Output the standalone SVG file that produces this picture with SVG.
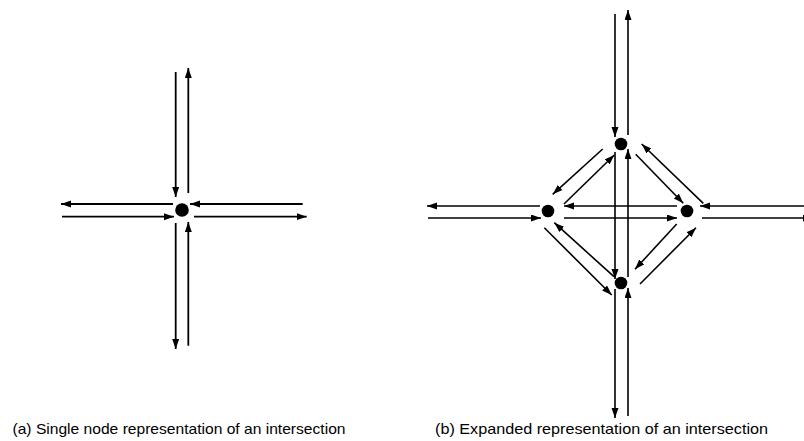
<svg xmlns="http://www.w3.org/2000/svg" width="804" height="441" viewBox="0 0 804 441">
<style>
.c{stroke:#000;fill:none;marker-end:url(#ah)}
.a{stroke-width:1.8}
.b{stroke-width:1.6}
.n{fill:#000}
.t{font-family:"Liberation Sans",Arial,sans-serif;font-size:14.5px;fill:#000}
</style>
<defs>
<marker id="ah" markerUnits="userSpaceOnUse" markerWidth="11" markerHeight="8" refX="10" refY="3.5" orient="auto">
<path d="M0,0 L10,3.5 L0,7 z" fill="#000"/>
</marker>
</defs>
<rect width="804" height="441" fill="#fff"/>
<g id="connectors">
<g id="single">
<line class="c a" x1="175.7" y1="72" x2="175.7" y2="197"/>
<line class="c a" x1="188.3" y1="193" x2="188.3" y2="68"/>
<line class="c a" x1="173" y1="204" x2="61" y2="204"/>
<line class="c a" x1="62" y1="216.7" x2="174" y2="216.7"/>
<line class="c a" x1="302.7" y1="204" x2="190" y2="204"/>
<line class="c a" x1="194" y1="216.7" x2="306.7" y2="216.7"/>
<line class="c a" x1="175.7" y1="223" x2="175.7" y2="349"/>
<line class="c a" x1="188.3" y1="345.7" x2="188.3" y2="222"/>
</g>
<g id="expanded">
<line class="c b" x1="615" y1="14" x2="615" y2="137"/>
<line class="c b" x1="628" y1="135" x2="628" y2="10"/>
<line class="c b" x1="615" y1="152" x2="615" y2="279"/>
<line class="c b" x1="628" y1="277" x2="628" y2="149"/>
<line class="c b" x1="615" y1="289" x2="615" y2="418"/>
<line class="c b" x1="628" y1="416" x2="628" y2="288"/>
<line class="c b" x1="540" y1="206" x2="427" y2="206"/>
<line class="c b" x1="428" y1="218" x2="541" y2="218"/>
<line class="c b" x1="677" y1="206" x2="564" y2="206"/>
<line class="c b" x1="564" y1="218" x2="677" y2="218"/>
<line class="c b" x1="804" y1="206" x2="700" y2="206"/>
<line class="c b" x1="702" y1="218" x2="813" y2="218"/>
<line class="c b" x1="602.7" y1="149" x2="552.7" y2="194.3"/>
<line class="c b" x1="564" y1="204" x2="614.3" y2="155"/>
<line class="c b" x1="635.7" y1="154.3" x2="683.3" y2="203.3"/>
<line class="c b" x1="703.3" y1="203.3" x2="641.7" y2="144"/>
<line class="c b" x1="676.7" y1="224" x2="635" y2="269.3"/>
<line class="c b" x1="640" y1="284" x2="696" y2="227.7"/>
<line class="c b" x1="544.3" y1="227.7" x2="611.7" y2="295"/>
<line class="c b" x1="614" y1="276.7" x2="554.3" y2="222.7"/>
</g>
</g>
<g id="node-single"><circle class="n" cx="182" cy="210" r="6.8"/></g>
<g id="node-top"><circle class="n" cx="621" cy="144" r="6.3"/></g>
<g id="node-left"><circle class="n" cx="548" cy="211" r="6.3"/></g>
<g id="node-right"><circle class="n" cx="687" cy="211" r="6.3"/></g>
<g id="node-bottom"><circle class="n" cx="621" cy="283" r="6.3"/></g>
<g id="captions">
<text class="t" x="12.5" y="434" textLength="333" lengthAdjust="spacingAndGlyphs">(a) Single node representation of an intersection</text>
<text class="t" x="435" y="434" textLength="333" lengthAdjust="spacingAndGlyphs">(b) Expanded representation of an intersection</text>
</g>
</svg>
